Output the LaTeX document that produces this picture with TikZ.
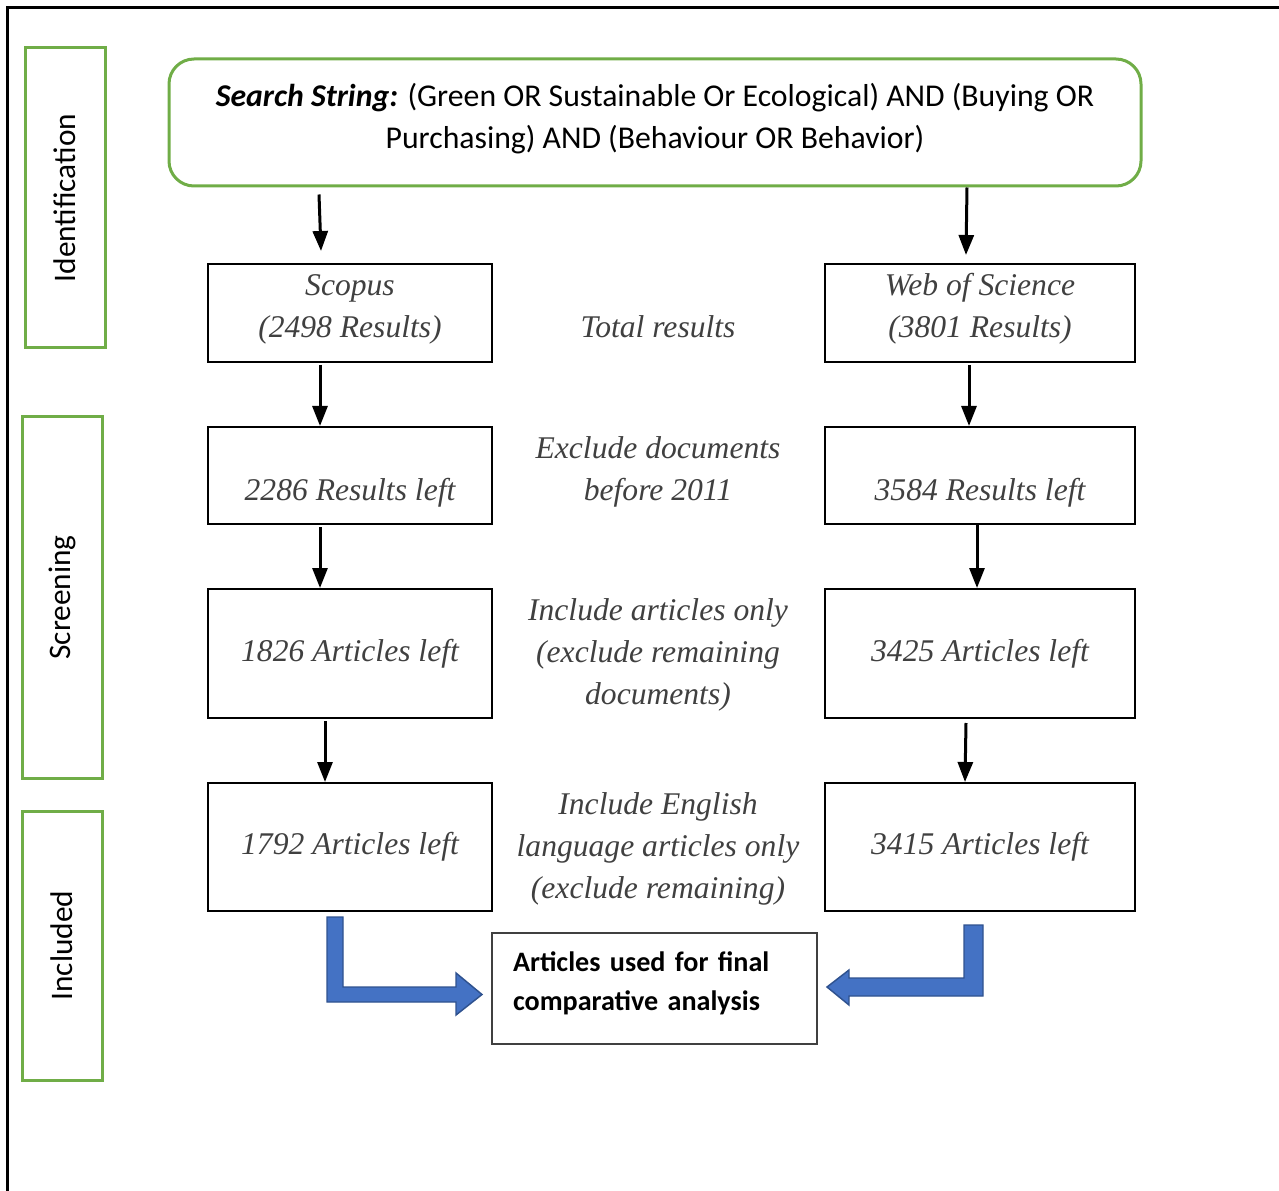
\documentclass[tikz,border=0pt]{standalone}
\usepackage{fontspec}
\setmainfont{Liberation Serif}
\newfontfamily\calibri{Carlito}
\usetikzlibrary{arrows.meta}
\definecolor{grn}{HTML}{70AD47}
\definecolor{blu}{HTML}{4472C4}
\definecolor{bluedge}{HTML}{2F528F}
\definecolor{txt}{HTML}{404040}
\newcommand{\lowdepth}[1]{\rule[-#1]{0pt}{0pt}}
\begin{document}
\begin{tikzpicture}[x=0.75pt,y=-0.75pt,
  box/.style={draw=black,line width=1.5pt,rectangle,inner sep=0pt,align=center,font=\fontsize{23.7}{31.5}\selectfont\itshape,text=txt},
  lbl/.style={align=center,font=\fontsize{23.7}{31.5}\selectfont\itshape,text=txt,inner sep=0pt},
  phase/.style={draw=grn,line width=2.25pt,inner sep=0pt,minimum width=60pt,font=\calibri\fontsize{23.5}{28}\selectfont},
  arr/.style={line width=2.25pt,-{Triangle[width=11.25pt,length=15pt]}},
  blk/.style={fill=blu,draw=bluedge,line width=1.1pt,line join=miter}
]
\useasboundingbox (0,0) rectangle (1279,1191);
\draw[line width=2.25pt] (7,1191) -- (7,8) -- (1279,8);

% phase boxes
\node[phase,minimum height=225pt] (id) at (65,198) {\rotatebox{90}{Identification}};
\node[phase,minimum height=270.75pt] (scr) at (62,597.5) {\rotatebox{90}{Screening}};
\node[phase,minimum height=201.75pt] (inc) at (62,945.5) {\rotatebox{90}{Included}};

% search string
\node[draw=grn,line width=2.25pt,rounded corners=18.75pt,minimum width=729pt,minimum height=95.25pt,inner sep=0pt,align=center,font=\calibri\fontsize{23.8}{31.5}\selectfont] (search) at (655,122.5)
  {\textbf{\textit{Search String:}} (Green OR Sustainable Or Ecological) AND (Buying OR\\Purchasing) AND (Behaviour OR Behavior)\lowdepth{10.5pt}};

% left column
\node[box,minimum width=213pt,minimum height=73.5pt] (sc) at (350,313) {Scopus\\(2498 Results)\lowdepth{11pt}};
\node[box,minimum width=213pt,minimum height=72.75pt] (l2) at (350,475.5) {\mbox{}\\[10.5pt]2286 Results left};
\node[box,minimum width=213pt,minimum height=96.75pt] (l3) at (350,653.5) {1826 Articles left};
\node[box,minimum width=213pt,minimum height=96pt] (l4) at (350,847) {1792 Articles left};

% right column
\node[box,minimum width=232.5pt,minimum height=73.5pt] (ws) at (980,313) {Web of Science\\(3801 Results)\lowdepth{11pt}};
\node[box,minimum width=232.5pt,minimum height=72.75pt] (r2) at (980,475.5) {\mbox{}\\[10.5pt]3584 Results left};
\node[box,minimum width=232.5pt,minimum height=96.75pt] (r3) at (980,653.5) {3425 Articles left};
\node[box,minimum width=232.5pt,minimum height=96pt] (r4) at (980,847) {3415 Articles left};

% middle labels
\node[lbl] (m1) at (658,327) {Total results};
\node[lbl] (m2) at (658,472) {Exclude documents\\before 2011};
\node[lbl] (m3) at (658,655) {Include articles only\\(exclude remaining\\documents)};
\node[lbl] (m4) at (658,848.5) {Include English\\language articles only\\(exclude remaining)};

% final
\node[draw=txt,line width=1pt,minimum height=83.25pt,text width=212.25pt,inner xsep=15.75pt,align=left,font=\calibri\bfseries\fontsize{21.1}{29.25}\selectfont] (fin) at (654.5,988.5)
  {Articles used for final\\comparative analysis\lowdepth{11pt}};

% arrows
\draw[arr] ([shift={(-252pt,-5.25pt)}]search.south) -- ([shift={(-21.75pt,9pt)}]sc.north);
\draw[arr] ([xshift=234pt]search.south) -- ([shift={(-10.5pt,6pt)}]ws.north);
\draw[arr] ([shift={(-22.5pt,-1.5pt)}]sc.south) -- ([xshift=-22.5pt]l2.north);
\draw[arr] ([shift={(-22.5pt,-1.5pt)}]l2.south) -- ([xshift=-22.5pt]l3.north);
\draw[arr] ([shift={(-18.75pt,-1.5pt)}]l3.south) -- ([xshift=-18.75pt]l4.north);
\draw[arr] ([shift={(-8.25pt,-1.5pt)}]ws.south) -- ([xshift=-8.25pt]r2.north);
\draw[arr] ([xshift=-2.25pt]r2.south) -- ([xshift=-2.25pt]r3.north);
\draw[arr] ([shift={(-10.5pt,-3pt)}]r3.south) -- ([xshift=-11.25pt]r4.north);

% block arrows
\draw[blk] (327,917) -- (343,917) -- (343,987) -- (456,987) -- (456,973) -- (482,994.5) -- (456,1015) -- (456,1002) -- (327,1002) -- cycle;
\draw[blk] (964,925) -- (983,925) -- (983,996) -- (849,996) -- (849,1005) -- (827,987) -- (849,970) -- (849,978) -- (964,978) -- cycle;
\end{tikzpicture}
\end{document}
